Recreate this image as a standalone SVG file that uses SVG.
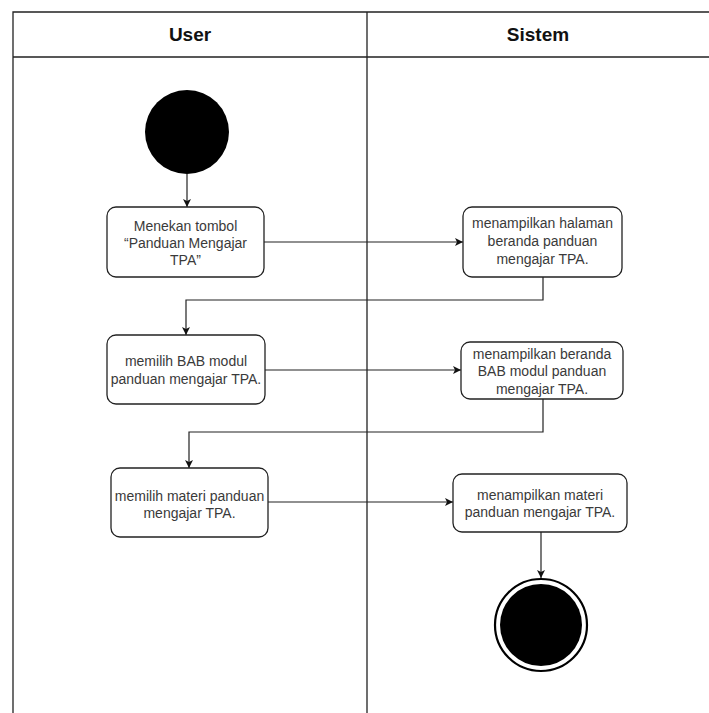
<svg xmlns="http://www.w3.org/2000/svg" width="709" height="713" viewBox="0 0 709 713">
  <style>
    .lane { fill: none; stroke: #222; stroke-width: 1.3; }
    .head { font-family: "Liberation Sans", Arial, sans-serif; font-size: 19px; font-weight: bold; fill: #111; text-anchor: middle; }
    .box { fill: #fff; stroke: #222; stroke-width: 1.3; }
    .lbl { font-family: "Liberation Sans", Arial, sans-serif; font-size: 14px; fill: #3a3a3a; text-anchor: middle; }
    .edge { fill: none; stroke: #222; stroke-width: 1.2; }
  </style>
  <defs>
    <marker id="arrow" viewBox="0 0 10 10" refX="10" refY="5" markerWidth="8" markerHeight="8" markerUnits="userSpaceOnUse" orient="auto">
      <path d="M0,0 L10,5 L0,10 L2.5,5 Z" fill="#111"/>
    </marker>
  </defs>
  <rect width="709" height="713" fill="#fff"/>

  <!-- swimlane frame -->
  <g id="lanes">
    <path class="lane" d="M13,720 V12 H720 M13,57 H720 M367,12 V720"/>
    <text class="head" x="190" y="41">User</text>
    <text class="head" x="538" y="41">Sistem</text>
  </g>

  <!-- connectors -->
  <g id="edges">
    <path class="edge" marker-end="url(#arrow)" d="M187,174 V207"/>
    <path class="edge" marker-end="url(#arrow)" d="M264,242 H463"/>
    <path class="edge" marker-end="url(#arrow)" d="M543,277 V300 H186 V335"/>
    <path class="edge" marker-end="url(#arrow)" d="M265,370 H461"/>
    <path class="edge" marker-end="url(#arrow)" d="M543,399 V432 H189 V468"/>
    <path class="edge" marker-end="url(#arrow)" d="M268,502 H453"/>
    <path class="edge" marker-end="url(#arrow)" d="M541,532 V578"/>
  </g>

  <g id="start">
    <circle cx="187" cy="132" r="42" fill="#000"/>
  </g>

  <g id="tekan-tombol">
    <rect class="box" x="107" y="207" width="157" height="70" rx="9"/>
    <text class="lbl" x="185.5" y="231">Menekan tombol</text>
    <text class="lbl" x="185.5" y="248">“Panduan Mengajar</text>
    <text class="lbl" x="185.5" y="265">TPA”</text>
  </g>

  <g id="tampil-beranda">
    <rect class="box" x="463" y="207" width="159" height="70" rx="9"/>
    <text class="lbl" x="542.5" y="228">menampilkan halaman</text>
    <text class="lbl" x="542.5" y="246">beranda panduan</text>
    <text class="lbl" x="542.5" y="264">mengajar TPA.</text>
  </g>

  <g id="pilih-bab">
    <rect class="box" x="107" y="335" width="158" height="69" rx="9"/>
    <text class="lbl" x="186" y="366">memilih BAB modul</text>
    <text class="lbl" x="186" y="384">panduan mengajar TPA.</text>
  </g>

  <g id="tampil-bab">
    <rect class="box" x="461" y="342" width="162" height="57" rx="9"/>
    <text class="lbl" x="542" y="358.5">menampilkan beranda</text>
    <text class="lbl" x="542" y="376">BAB modul panduan</text>
    <text class="lbl" x="542" y="393.5">mengajar TPA.</text>
  </g>

  <g id="pilih-materi">
    <rect class="box" x="111" y="468" width="157" height="69" rx="9"/>
    <text class="lbl" x="189.5" y="501">memilih materi panduan</text>
    <text class="lbl" x="189.5" y="518">mengajar TPA.</text>
  </g>

  <g id="tampil-materi">
    <rect class="box" x="453" y="474" width="174" height="58" rx="9"/>
    <text class="lbl" x="540" y="500">menampilkan materi</text>
    <text class="lbl" x="540" y="517">panduan mengajar TPA.</text>
  </g>

  <g id="end">
    <circle cx="541" cy="625" r="46" fill="#fff" stroke="#000" stroke-width="2.2"/>
    <circle cx="541" cy="625" r="41" fill="#000"/>
  </g>
</svg>
